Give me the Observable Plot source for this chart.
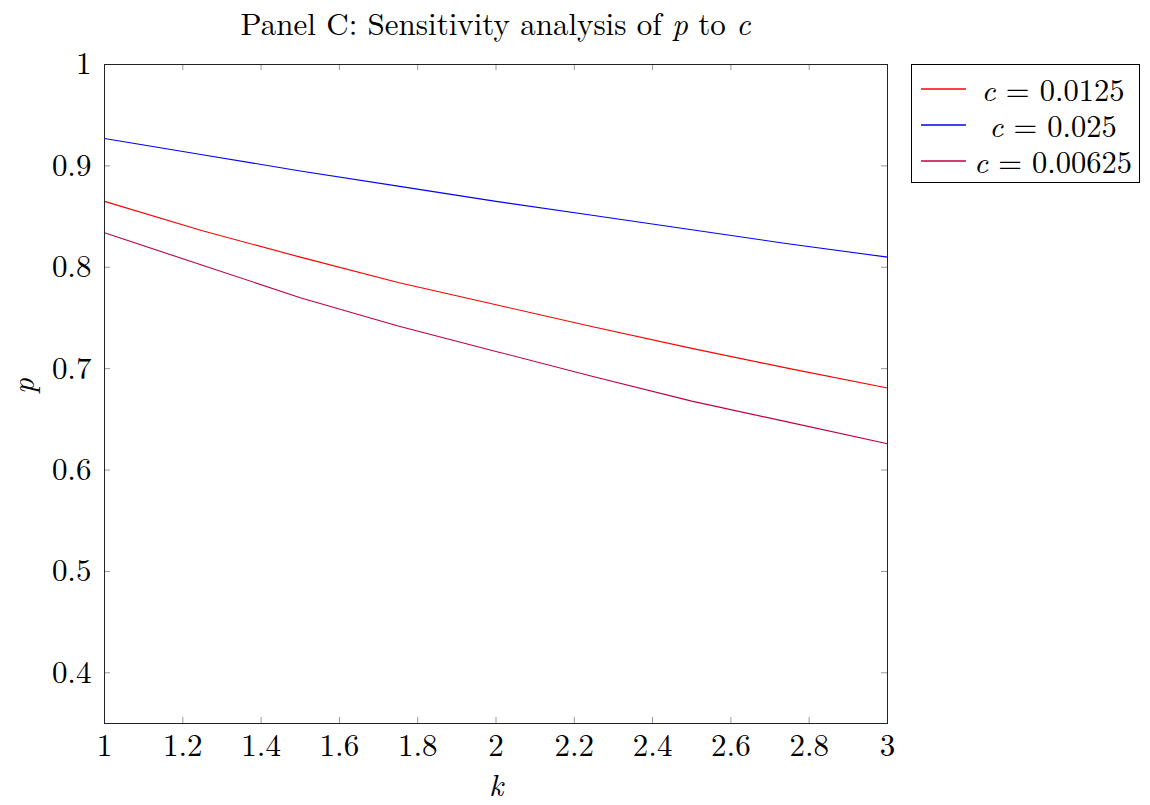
<!DOCTYPE html>
<html><head><meta charset="utf-8">
<script src="https://cdn.jsdelivr.net/npm/d3@7"></script>
<script src="https://cdn.jsdelivr.net/npm/@observablehq/plot@0.6"></script>
<style>
body{margin:0;background:#fff;font-family:"Latin Modern Roman","CMU Serif","Liberation Serif",serif;}
#wrap{position:relative;width:1150px;height:805px;background:#fff;}
#chart{position:absolute;left:0;top:0;z-index:1;}
#title{position:absolute;left:0;width:991px;top:4px;text-align:center;font-size:31px;line-height:36px;color:#000;z-index:2;}
#legend{position:absolute;left:911px;top:64px;width:227px;height:117px;border:1px solid #000;background:#fff;z-index:3;}
.row{position:absolute;left:0;width:227px;height:30px;}
.sample{position:absolute;left:9px;top:13px;}
.lab{position:absolute;left:56px;width:170px;top:0;height:30px;line-height:30px;text-align:center;font-size:30.5px;color:#000;white-space:nowrap;}
</style></head>
<body>
<div id="wrap">
  <div id="chart"></div>
  <div id="title">Panel C: Sensitivity analysis of <i>p</i> to <i>c</i></div>
  <div id="legend"></div>
</div>
<script>
// ---- data ----
const kValues = [1, 1.25, 1.5, 1.75, 2, 2.25, 2.5, 2.75, 3];
const pC0125  = [0.865, 0.836, 0.810, 0.785, 0.763, 0.741, 0.720, 0.700, 0.681];
const pC025   = [0.927, 0.911, 0.895, 0.880, 0.865, 0.851, 0.837, 0.823, 0.810];
const pC00625 = [0.834, 0.802, 0.770, 0.742, 0.717, 0.692, 0.668, 0.647, 0.626];
const seriesNames = ["c = 0.0125", "c = 0.025", "c = 0.00625"];
const seriesNumbers = ["0.0125", "0.025", "0.00625"];
const seriesColors = ["#ff0000", "#0000ff", "#bf0040"];
const xTicks = [1, 1.2, 1.4, 1.6, 1.8, 2, 2.2, 2.4, 2.6, 2.8, 3];
const yTicks = [0.4, 0.5, 0.6, 0.7, 0.8, 0.9, 1];

const seriesValues = [pC0125, pC025, pC00625];
const rows = [];
seriesValues.forEach((arr, i) => arr.forEach((p, j) => rows.push({k: kValues[j], p, s: seriesNames[i]})));

const W = 1150, H = 805, mL = 104, mR = 263, mT = 64, mB = 82;
const fw = W - mL - mR, fh = H - mT - mB;
const fmt = d => String(+d.toFixed(2));
const font = '"Latin Modern Roman","CMU Serif","Liberation Serif",serif';

const chart = Plot.plot({
  width: W, height: H,
  marginLeft: mL, marginRight: mR, marginTop: mT, marginBottom: mB,
  style: {fontFamily: font, fontSize: "31px", background: "transparent", color: "#000", overflow: "visible"},
  x: {domain: [1, 3]},
  y: {domain: [0.35, 1]},
  color: {domain: seriesNames, range: seriesColors},
  marks: [
    Plot.axisX(xTicks, {tickSize: 0, tickPadding: 10, tickFormat: fmt, label: null, fontSize: 31}),
    Plot.axisY(yTicks, {tickSize: 0, tickPadding: 13, tickFormat: fmt, label: null, fontSize: 31}),
    Plot.tickX(xTicks, {x: d => d, insetTop: fh - 6, stroke: "#999", strokeWidth: 1}),
    Plot.tickX(xTicks, {x: d => d, insetBottom: fh - 6, stroke: "#999", strokeWidth: 1}),
    Plot.tickY(yTicks, {y: d => d, insetRight: fw - 6, stroke: "#999", strokeWidth: 1}),
    Plot.tickY(yTicks, {y: d => d, insetLeft: fw - 6, stroke: "#999", strokeWidth: 1}),
    Plot.line(rows, {x: "k", y: "p", z: "s", stroke: "s", strokeWidth: 1.1}),
    Plot.frame({stroke: "#222", strokeWidth: 1}),
    Plot.text(["k"], {frameAnchor: "bottom", dy: 72, fontStyle: "italic", fontSize: 31}),
    Plot.text(["p"], {frameAnchor: "left", dx: -80, rotate: -90, fontStyle: "italic", fontSize: 31})
  ]
});
document.getElementById("chart").appendChild(chart);

// legend
const leg = document.getElementById("legend");
seriesNames.forEach((name, i) => {
  const row = document.createElement("div");
  row.className = "row";
  row.style.top = (9 + i * 36) + "px";
  const s = document.createElementNS("http://www.w3.org/2000/svg", "svg");
  s.setAttribute("class", "sample");
  s.setAttribute("width", "45");
  s.setAttribute("height", "4");
  const ln = document.createElementNS("http://www.w3.org/2000/svg", "line");
  ln.setAttribute("x1", "0"); ln.setAttribute("x2", "45");
  ln.setAttribute("y1", "2"); ln.setAttribute("y2", "2");
  ln.setAttribute("stroke", seriesColors[i]);
  ln.setAttribute("stroke-width", "1.3");
  s.appendChild(ln);
  const l = document.createElement("div");
  l.className = "lab";
  l.innerHTML = "<i>c</i> = " + seriesNumbers[i];
  row.appendChild(s); row.appendChild(l);
  leg.appendChild(row);
});
</script>
</body></html>
